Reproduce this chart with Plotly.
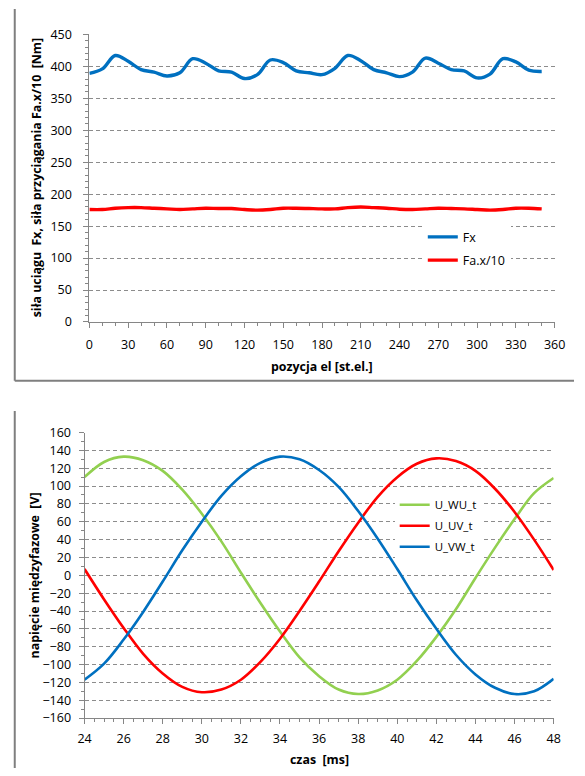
import plotly.graph_objects as go

# ---- top chart data ----
pos_el = [0, 10, 20, 30, 40, 50, 60, 70, 80, 90, 100, 110, 120, 130, 140, 150, 160, 170,
          180, 190, 200, 210, 220, 230, 240, 250, 260, 270, 280, 290, 300, 310, 320, 330, 340, 350]
fx = [389, 396, 417, 408, 395, 391, 385, 390, 412, 405, 393, 391, 381, 387, 410, 406, 393, 390,
      387, 397, 417, 409, 395, 390, 384, 391, 413, 405, 395, 393, 382, 388, 412, 407, 394, 392]
fa_x10 = [176, 176, 178, 179, 179, 178, 177, 176, 177, 178, 177.5, 177.5, 176, 175, 176, 178, 178, 177.5,
          177, 177, 179, 180, 179, 178, 176.5, 176, 177, 178, 177.5, 177, 176, 175, 176, 178, 178, 177]

# ---- bottom chart data ----
czas = [24, 25, 26, 27, 28, 29, 30, 31, 32, 33, 34, 35, 36, 37, 38, 39, 40, 41, 42, 43, 44, 45, 46, 47, 48]
u_wu = [110, 127, 133, 129, 117, 96, 69, 38, 3, -31, -63, -92, -113, -128, -133, -129, -117, -96, -69,
        -38, -3, 31, 63, 92, 109]
u_uv = [7, -27, -59, -88, -110, -125, -131, -128, -117, -97, -71, -40, -7, 27, 59, 88, 110, 125, 131,
        128, 117, 97, 71, 40, 6]
u_vw = [-117, -99, -72, -41, -7, 28, 60, 89, 111, 126, 133, 130, 118, 99, 72, 41, 7, -28, -60,
        -89, -111, -126, -133, -130, -116]

BLUE = "#0070C0"
RED = "#FF0000"
GREEN = "#92D050"
GRID = "#8C8C8C"
AX = "#868686"
FONT = "Open Sans"

W, H = 585, 776


def px_x(x):
    return x / W


def px_y(y):
    return 1 - y / H


fig = go.Figure()

fig.add_trace(go.Scatter(x=pos_el, y=fx, name="Fx", mode="lines", line=dict(color=BLUE, width=3.4, shape="spline"),
                         xaxis="x", yaxis="y", legend="legend", legendgroup="a"))
fig.add_trace(go.Scatter(x=pos_el, y=fa_x10, name="Fa.x/10", mode="lines", line=dict(color=RED, width=3.4, shape="spline"),
                         xaxis="x", yaxis="y", legend="legend", legendgroup="b"))

fig.add_trace(go.Scatter(x=czas, y=u_wu, name="U_WU_t", mode="lines", line=dict(color=GREEN, width=2.6, shape="spline"),
                         xaxis="x2", yaxis="y2", legend="legend2", legendgroup="c"))
fig.add_trace(go.Scatter(x=czas, y=u_uv, name="U_UV_t", mode="lines", line=dict(color=RED, width=2.6, shape="spline"),
                         xaxis="x2", yaxis="y2", legend="legend2", legendgroup="d"))
fig.add_trace(go.Scatter(x=czas, y=u_vw, name="U_VW_t", mode="lines", line=dict(color=BLUE, width=2.6, shape="spline"),
                         xaxis="x2", yaxis="y2", legend="legend2", legendgroup="e"))

tickfont = dict(family=FONT, size=12.5, color="#000000")

common_axis = dict(showline=True, linecolor=AX, linewidth=1, ticks="outside", tickcolor=AX, ticklen=5,
                   tickfont=tickfont, zeroline=False, fixedrange=True)
DASH = "4px,3px"

fig.update_layout(
    width=W, height=H,
    margin=dict(l=0, r=0, t=0, b=0),
    paper_bgcolor="white", plot_bgcolor="white",
    showlegend=True,
    xaxis=dict(domain=[px_x(85), px_x(565)], range=[0, 360], dtick=30, tick0=0, anchor="y",
               showgrid=False,
               minor=dict(dtick=10, ticks="outside", ticklen=3, tickcolor=AX, showgrid=False),
               ticklabelstandoff=6, **common_axis),
    yaxis=dict(domain=[px_y(320), px_y(26)], range=[0, 450], dtick=50, tick0=0, anchor="x",
               showgrid=True, gridcolor=GRID, griddash=DASH, gridwidth=1,
               minor=dict(dtick=10, ticks="outside", ticklen=3, tickcolor=AX, showgrid=False),
               ticklabelstandoff=9, **common_axis),
    xaxis2=dict(domain=[px_x(80), px_x(564)], range=[24, 48], dtick=2, tick0=24, anchor="y2",
                showgrid=False,
                minor=dict(dtick=0.5, ticks="outside", ticklen=3, tickcolor=AX, showgrid=False),
                ticklabelstandoff=4, **common_axis),
    yaxis2=dict(domain=[px_y(725), px_y(433)], range=[-160, 160], dtick=20, tick0=0, anchor="x2",
                showgrid=True, gridcolor=GRID, griddash=DASH, gridwidth=1,
                minor=dict(dtick=10, ticks="outside", ticklen=3, tickcolor=AX, showgrid=False),
                ticklabelstandoff=5, **common_axis),
    legend=dict(x=px_x(429), y=px_y(218), xanchor="left", yanchor="top",
                bgcolor="white", borderwidth=0, tracegroupgap=4,
                font=dict(family=FONT, size=12.5, color="#000000"), itemwidth=30),
    legend2=dict(x=px_x(400), y=px_y(492), xanchor="left", yanchor="top",
                 bgcolor="white", borderwidth=0, tracegroupgap=2,
                 font=dict(family=FONT, size=11.5, color="#000000"), itemwidth=30),
)

# axis titles
titlefont = dict(family=FONT, size=12.4, color="#000000", weight="bold")
fig.add_annotation(text="siła uciągu  Fx, siła przyciągania Fa.x/10  [Nm]", textangle=-90,
                   x=px_x(30), y=px_y(173), xref="paper", yref="paper", showarrow=False,
                   font=titlefont, xanchor="center", yanchor="middle")
fig.add_annotation(text="pozycja el [st.el.]", x=px_x(325), y=px_y(365), xref="paper", yref="paper",
                   showarrow=False, font=titlefont, xanchor="center", yanchor="middle")
fig.add_annotation(text="napięcie międzyfazowe  [V]", textangle=-90,
                   x=px_x(28), y=px_y(579), xref="paper", yref="paper", showarrow=False,
                   font=titlefont, xanchor="center", yanchor="middle")
fig.add_annotation(text="czas  [ms]", x=px_x(322), y=px_y(767), xref="paper", yref="paper",
                   showarrow=False, font=titlefont, xanchor="center", yanchor="middle")

# chart-area frames (Excel style)
FRAME = "#7F7F7F"
fig.add_shape(type="line", xref="paper", yref="paper", x0=px_x(8), x1=px_x(8), y0=px_y(0), y1=px_y(380),
              line=dict(color=FRAME, width=2))
fig.add_shape(type="line", xref="paper", yref="paper", x0=px_x(8), x1=1, y0=px_y(380), y1=px_y(380),
              line=dict(color=FRAME, width=2))
fig.add_shape(type="line", xref="paper", yref="paper", x0=px_x(8), x1=px_x(8), y0=px_y(411), y1=0,
              line=dict(color=FRAME, width=2))

fig.write_html("out.html", config={"displayModeBar": False},
               post_script="document.body.style.margin='0';document.body.style.overflow='hidden';")
